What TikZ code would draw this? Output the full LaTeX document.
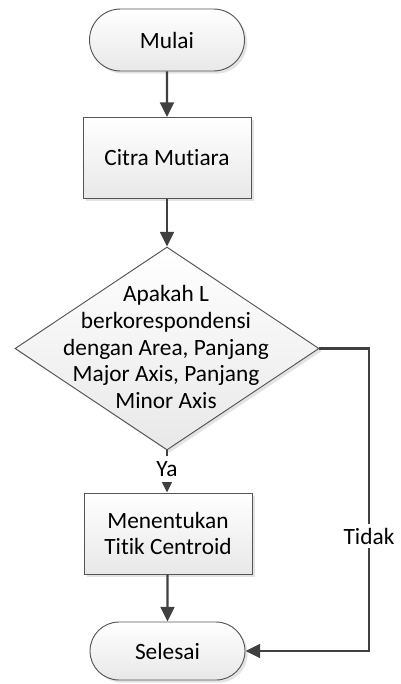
\documentclass[tikz,border=0pt]{standalone}
\usepackage{fontspec}
\setmainfont[Ligatures={NoCommon}]{Carlito}
\usetikzlibrary{shapes.geometric,shapes.misc,shadows,arrows.meta}
\definecolor{lineC}{HTML}{404040}
\definecolor{edgeC}{HTML}{555555}
\begin{document}
\begin{tikzpicture}[x=0.75pt,y=-0.75pt,
  font=\fontsize{17.5pt}{20pt}\selectfont,
  base/.style={draw=edgeC, line width=0.7pt, top color=white, bottom color=black!9,
    drop shadow={opacity=0.22, shadow xshift=2pt, shadow yshift=-2pt}, align=center},
  term/.style={base, rounded rectangle, minimum width=116.25pt, minimum height=46.5pt, inner sep=0pt},
  proc/.style={base, rectangle, minimum width=126pt, minimum height=60.75pt, inner sep=0pt},
  decision/.style={base, diamond, minimum width=228pt, minimum height=152.25pt, inner sep=0pt},
  arr/.style={draw=lineC, line width=1.6pt, -{Triangle[length=11pt,width=10.5pt]}},
  lbl/.style={fill=white, inner sep=3pt, text=black}]
\useasboundingbox (0,0) rectangle (400,684);
\node[term] (m) at (167,40) {Mulai};
\node[proc] (c) at (167,158) {Citra Mutiara};
\node[decision] (d) at (167,348.5) {};
\node[align=center, inner sep=0pt] (dt) at (166,347) {Apakah L\\berkorespondensi\\dengan Area, Panjang\\Major Axis, Panjang\\Minor Axis};
\node[proc] (p) at (168,533.5) {Menentukan\\Titik Centroid};
\node[term, minimum height=43.5pt] (s) at (167.5,651) {Selesai};
\coordinate (k1) at (369,348.5);
\coordinate (k2) at (369,651);
\draw[arr] (m) -- (c);
\draw[arr] (c) -- (d.north);
\draw[arr] (d.south) -- node[lbl, inner ysep=4pt, pos=0.45] (ya) {Ya} (p.north -| d.south);
\draw[arr] (p.south -| s.north) -- (s);
\draw[arr] (d.east) -- (k1) -- node[lbl, pos=0.62] (td) {Tidak} (k2) -- (s.east);
\end{tikzpicture}
\end{document}
